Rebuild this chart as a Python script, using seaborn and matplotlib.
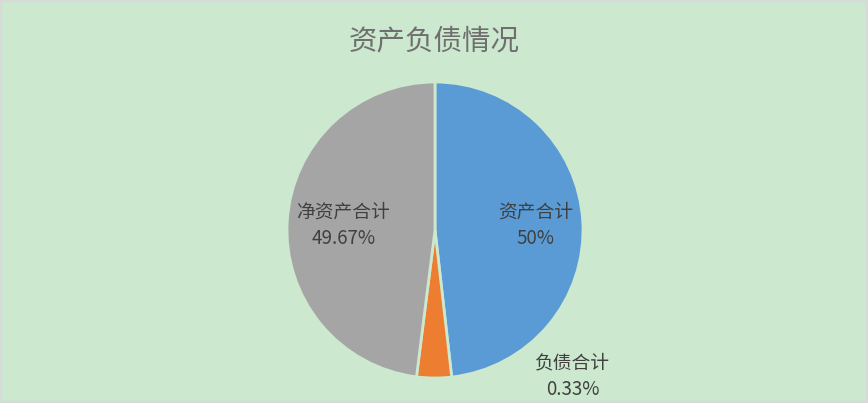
import numpy as np
import matplotlib
matplotlib.use("Agg")
import matplotlib.pyplot as plt
import seaborn as sns

# 数据
names = ['资产合计', '负债合计', '净资产合计']
shares = [48.2, 3.8, 48.0]          # 图中扇区大小(估计)
pct_text = ['50%', '0.33%', '49.67%']  # 图中标注文字
colors = ['#5B9BD5', '#ED7D31', '#A5A5A5']

sns.set_style("white")
plt.rcParams['font.family'] = ['Noto Sans CJK SC', 'DejaVu Sans']

bg = '#CCE8CF'
fig = plt.figure(figsize=(8.68, 4.03), dpi=100, facecolor=bg)

# 饼图区域: 圆心(435,230) 半径148 像素
W, H = 868, 403
cx, cy, r = 435, 230, 148
ax = fig.add_axes([(cx - r) / W, (H - cy - r) / H, 2 * r / W, 2 * r / H])
ax.set_facecolor(bg)

wedges, _ = ax.pie(shares, colors=colors, startangle=90, counterclock=False,
                   wedgeprops=dict(edgecolor=bg, linewidth=2))
ax.set_xlim(-1, 1)
ax.set_ylim(-1, 1)
ax.set_aspect('equal')
ax.axis('off')

label_pos = [(0.68, 0.03), (0.93, -0.99), (-0.62, 0.03)]
for n, p, (x, y) in zip(names, pct_text, label_pos):
    ax.text(x, y, n + '\n' + p, ha='center', va='center', fontsize=13.5,
            color='#404040', linespacing=1.35, clip_on=False, fontweight='light')

fig.text(0.5, 1 - 41 / H, '资产负债情况', ha='center', va='center',
         fontsize=20.5, color='#6f6f6f', fontweight='light')

# 边框
fig.patches.append(plt.Rectangle((0, 0), 1, 1, transform=fig.transFigure,
                                 fill=False, edgecolor='#D9D9D9', linewidth=3))

fig.savefig('out.png', dpi=100, facecolor=bg)
